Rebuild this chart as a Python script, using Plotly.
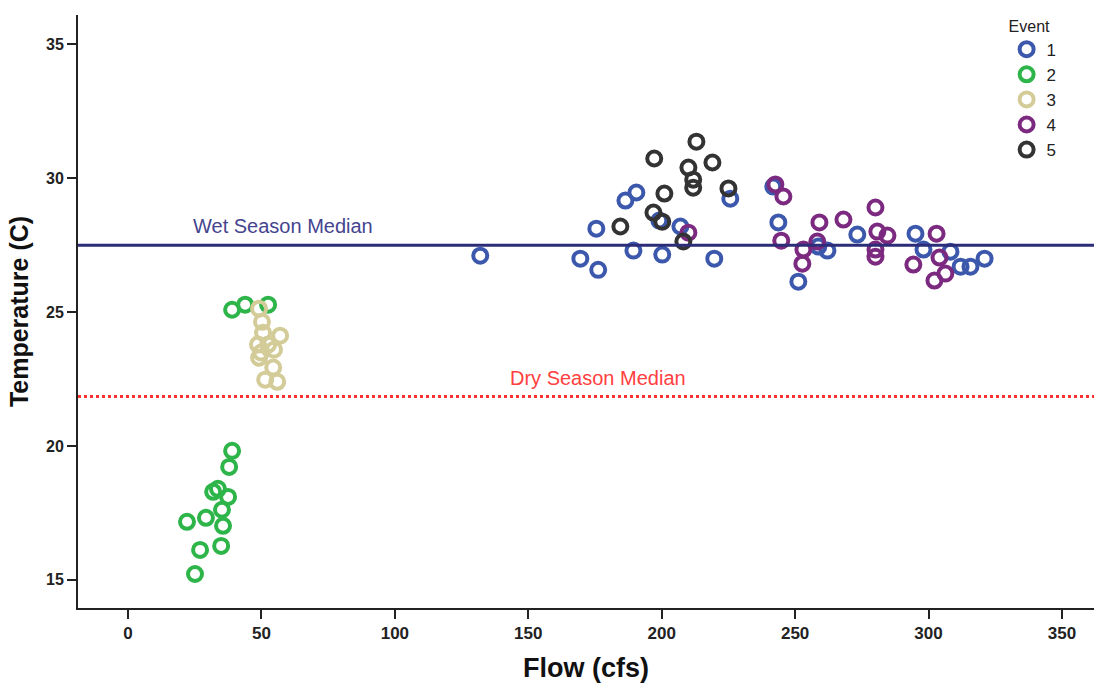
import plotly.graph_objects as go

# Flow (cfs) and temperature (C) per sampling event
event1_flow = [132.0, 169.5, 176.2, 175.5, 186.4, 190.5, 189.4, 200.2, 207.0, 199.1, 219.7, 225.7,
               241.8, 243.7, 258.7, 262.1, 273.3, 251.2, 295.1, 298.1, 308.2, 312.0, 315.7, 321.0]
event1_temp = [27.11, 27.00, 26.58, 28.12, 29.17, 29.47, 27.30, 27.15, 28.20, 28.42, 27.00, 29.24,
               29.69, 28.35, 27.45, 27.30, 27.90, 26.14, 27.93, 27.34, 27.26, 26.70, 26.70, 27.00]

event2_flow = [39.0, 37.9, 31.9, 33.7, 37.5, 35.2, 29.2, 22.1, 35.6, 27.0, 34.9, 25.1, 39.0, 43.9, 52.5]
event2_temp = [19.82, 19.22, 18.29, 18.40, 18.10, 17.62, 17.32, 17.17, 17.02, 16.12, 16.27, 15.22,
               25.09, 25.28, 25.28]

event3_flow = [49.1, 50.2, 50.6, 57.0, 48.7, 52.5, 54.7, 49.9, 49.1, 54.4, 51.4, 55.9]
event3_temp = [25.13, 24.64, 24.23, 24.12, 23.79, 23.79, 23.60, 23.49, 23.30, 22.93, 22.48, 22.40]

event4_flow = [210.0, 242.6, 245.6, 244.8, 259.1, 258.3, 253.1, 252.7, 268.1, 280.1, 280.8, 284.6,
               280.1, 280.1, 303.0, 294.3, 304.1, 306.3, 302.2]
event4_temp = [27.97, 29.77, 29.32, 27.67, 28.35, 27.64, 27.34, 26.81, 28.46, 28.91, 28.01, 27.86,
               27.34, 27.07, 27.93, 26.78, 27.04, 26.44, 26.18]

event5_flow = [213.0, 197.2, 219.0, 210.0, 211.8, 211.8, 225.0, 201.0, 196.9, 200.2, 184.5, 208.1]
event5_temp = [31.37, 30.74, 30.59, 30.40, 29.95, 29.65, 29.62, 29.43, 28.72, 28.38, 28.20, 27.64]

event_names = ["1", "2", "3", "4", "5"]
event_colors = ["#3c58ac", "#2eb54a", "#d3cc98", "#7c2a80", "#333333"]

wet_median = 27.5
dry_median = 21.85

x_ticks = [0, 50, 100, 150, 200, 250, 300, 350]
y_ticks = [15, 20, 25, 30, 35]

series = [
    (event1_flow, event1_temp),
    (event2_flow, event2_temp),
    (event3_flow, event3_temp),
    (event4_flow, event4_temp),
    (event5_flow, event5_temp),
]

fig = go.Figure()

for (fx, ty), name, color in zip(series, event_names, event_colors):
    fig.add_trace(go.Scatter(
        x=fx, y=ty, mode="markers", name=name,
        marker=dict(symbol="circle-open", size=14, color=color,
                    line=dict(width=4, color=color)),
    ))

# Season median reference lines across the full plot width
fig.add_shape(type="line", xref="paper", x0=0, x1=1, yref="y", y0=wet_median, y1=wet_median,
              line=dict(color="#2c2c78", width=3))
fig.add_shape(type="line", xref="paper", x0=0, x1=1, yref="y", y0=dry_median, y1=dry_median,
              line=dict(color="#ff3030", width=3, dash="dot"))

fig.add_annotation(x=58, y=wet_median, yshift=19, text="Wet Season Median", showarrow=False,
                   font=dict(family="Liberation Sans, Arial", size=20, color="#44448f"))
fig.add_annotation(x=176, y=dry_median, yshift=19, text="Dry Season Median", showarrow=False,
                   font=dict(family="Liberation Sans, Arial", size=20, color="#ff4040"))

fig.update_layout(
    width=1094, height=685,
    margin=dict(l=78, r=0, t=15, b=77),
    paper_bgcolor="white", plot_bgcolor="white",
    showlegend=True,
    legend=dict(title=dict(text="Event", font=dict(size=16, color="#222")),
                x=0.914, xanchor="left", y=1.007, yanchor="top",
                font=dict(family="Liberation Sans, Arial", size=17, color="#222"),
                bgcolor="rgba(0,0,0,0)", tracegroupgap=0, itemsizing="trace"),
    xaxis=dict(
        range=[-18.75, 362], tickvals=x_ticks, ticktext=[str(v) for v in x_ticks],
        showgrid=False, zeroline=False, showline=True, linecolor="#222", linewidth=2,
        ticks="outside", ticklen=9, tickwidth=1.5, tickcolor="#222",
        tickfont=dict(family="Liberation Sans Narrow, Arial Narrow, Liberation Sans", size=17, color="#222", weight="bold"),
        title=dict(text="Flow (cfs)", standoff=16,
                   font=dict(family="Liberation Sans Narrow, Arial Narrow, Liberation Sans", size=27, color="#111", weight="bold")),
    ),
    yaxis=dict(
        range=[13.95, 36.1], tickvals=y_ticks, ticktext=[str(v) for v in y_ticks],
        showgrid=False, zeroline=False, showline=True, linecolor="#222", linewidth=2,
        ticks="outside", ticklen=9, tickwidth=1.5, tickcolor="#222",
        tickfont=dict(family="Liberation Sans, Arial", size=16, color="#222", weight="bold"),
        title=dict(text="Temperature (C)", standoff=10,
                   font=dict(family="Liberation Sans, Arial", size=25, color="#111", weight="bold")),
    ),
)

fig.write_html("out.html")
